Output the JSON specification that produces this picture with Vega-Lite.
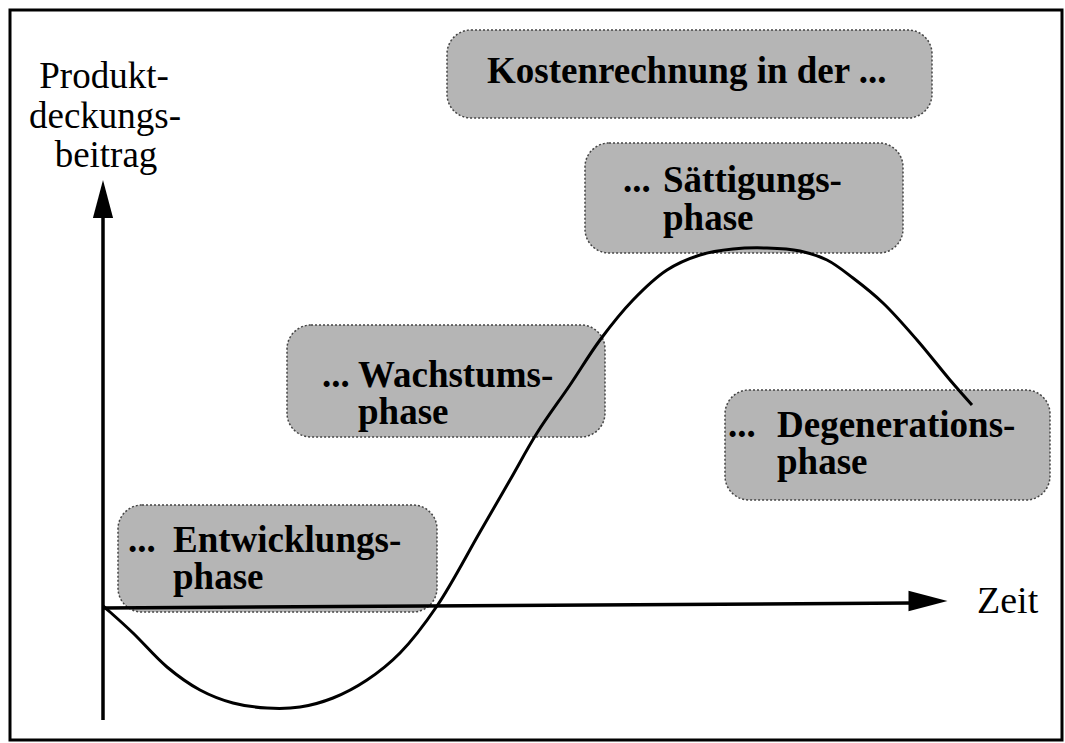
{
  "$schema": "https://vega.github.io/schema/vega-lite/v6.json",
  "width": 1065,
  "height": 743,
  "padding": 0,
  "autosize": {"type": "fit", "contains": "padding"},
  "background": "white",
  "config": {"view": {"stroke": null}},
  "datasets": {
    "frame": [{"x": -93, "x2": 959, "y": 596, "y2": -134}],
    "boxes": [
      {"phase": "Kostenrechnung", "x": 344, "x2": 829, "y": 576, "y2": 488},
      {"phase": "Sättigung", "x": 482, "x2": 800, "y": 463, "y2": 353},
      {"phase": "Wachstum", "x": 184, "x2": 502, "y": 281, "y2": 169},
      {"phase": "Degeneration", "x": 622, "x2": 947, "y": 216, "y2": 106},
      {"phase": "Entwicklung", "x": 15, "x2": 334, "y": 101, "y2": -6}
    ],
    "curve": [
      {"x": 0, "y": 0}, {"x": 7, "y": -6}, {"x": 30, "y": -27}, {"x": 64, "y": -61},
      {"x": 97, "y": -84}, {"x": 130, "y": -97}, {"x": 164, "y": -102}, {"x": 197, "y": -101},
      {"x": 230, "y": -92}, {"x": 264, "y": -74}, {"x": 297, "y": -47}, {"x": 334, "y": 0},
      {"x": 377, "y": 74}, {"x": 407, "y": 126}, {"x": 434, "y": 173}, {"x": 467, "y": 221},
      {"x": 497, "y": 266}, {"x": 530, "y": 306}, {"x": 564, "y": 336}, {"x": 597, "y": 351},
      {"x": 630, "y": 357}, {"x": 664, "y": 358}, {"x": 697, "y": 355}, {"x": 724, "y": 346},
      {"x": 750, "y": 328}, {"x": 780, "y": 303}, {"x": 814, "y": 266}, {"x": 847, "y": 226},
      {"x": 869, "y": 201}
    ],
    "axes": [
      {"axis": "Produktdeckungsbeitrag", "x": 0, "x2": 0, "y": -114, "y2": 390},
      {"axis": "Zeit", "x": 0, "x2": 808, "y": -2, "y2": 3}
    ],
    "arrowUp": [{"x": 0, "y": 407}],
    "arrowRight": [{"x": 825, "y": 5}],
    "labelsCenter": [
      {"text": "Produkt-", "x": 1, "y": 518},
      {"text": "deckungs-", "x": 2, "y": 478},
      {"text": "beitrag", "x": 3, "y": 439}
    ],
    "labelsLeft": [
      {"text": "Zeit", "x": 874, "y": -7}
    ],
    "boxText": [
      {"text": "Kostenrechnung in der ...", "x": 384, "y": 523},
      {"text": "...", "x": 520, "y": 414},
      {"text": "Sättigungs-", "x": 560, "y": 414},
      {"text": "phase", "x": 560, "y": 376},
      {"text": "...", "x": 219, "y": 219},
      {"text": "Wachstums-", "x": 255, "y": 219},
      {"text": "phase", "x": 255, "y": 182},
      {"text": "...", "x": 25, "y": 54},
      {"text": "Entwicklungs-", "x": 70, "y": 54},
      {"text": "phase", "x": 70, "y": 17},
      {"text": "...", "x": 625, "y": 169},
      {"text": "Degenerations-", "x": 674, "y": 169},
      {"text": "phase", "x": 674, "y": 132}
    ]
  },
  "encoding": {
    "x": {"field": "x", "type": "quantitative", "scale": {"domain": [-103, 962], "nice": false, "zero": false}, "axis": null},
    "y": {"field": "y", "type": "quantitative", "scale": {"domain": [-137, 606], "nice": false, "zero": false}, "axis": null}
  },
  "layer": [
    {
      "data": {"name": "frame"},
      "mark": {"type": "rect", "fill": "transparent", "stroke": "black", "strokeWidth": 3},
      "encoding": {"x2": {"field": "x2"}, "y2": {"field": "y2"}}
    },
    {
      "data": {"name": "boxes"},
      "mark": {"type": "rect", "fill": "#b5b5b5", "stroke": "#444444", "strokeWidth": 1.5, "strokeDash": [2, 2], "cornerRadius": 24},
      "encoding": {"x2": {"field": "x2"}, "y2": {"field": "y2"}}
    },
    {
      "data": {"name": "curve"},
      "mark": {"type": "line", "color": "black", "strokeWidth": 3, "interpolate": "catmull-rom"},
      "encoding": {"order": {"field": "x", "type": "quantitative"}}
    },
    {
      "data": {"name": "axes"},
      "mark": {"type": "rule", "color": "black", "strokeWidth": 3.5},
      "encoding": {"x2": {"field": "x2"}, "y2": {"field": "y2"}}
    },
    {
      "data": {"name": "arrowUp"},
      "mark": {"type": "point", "filled": true, "color": "black", "opacity": 1, "strokeWidth": 0, "size": 1444, "shape": "M0,-1L0.53,1L-0.53,1Z"}
    },
    {
      "data": {"name": "arrowRight"},
      "mark": {"type": "point", "filled": true, "color": "black", "opacity": 1, "strokeWidth": 0, "size": 1521, "shape": "M1,0L-1,-0.52L-1,0.52Z"}
    },
    {
      "data": {"name": "labelsCenter"},
      "mark": {"type": "text", "font": "Liberation Serif", "fontSize": 37, "align": "center", "baseline": "alphabetic", "color": "black"},
      "encoding": {"text": {"field": "text"}}
    },
    {
      "data": {"name": "labelsLeft"},
      "mark": {"type": "text", "font": "Liberation Serif", "fontSize": 38, "align": "left", "baseline": "alphabetic", "color": "black"},
      "encoding": {"text": {"field": "text"}}
    },
    {
      "data": {"name": "boxText"},
      "mark": {"type": "text", "font": "Liberation Serif", "fontWeight": "bold", "fontSize": 37, "align": "left", "baseline": "alphabetic", "color": "black"},
      "encoding": {"text": {"field": "text"}}
    }
  ]
}
